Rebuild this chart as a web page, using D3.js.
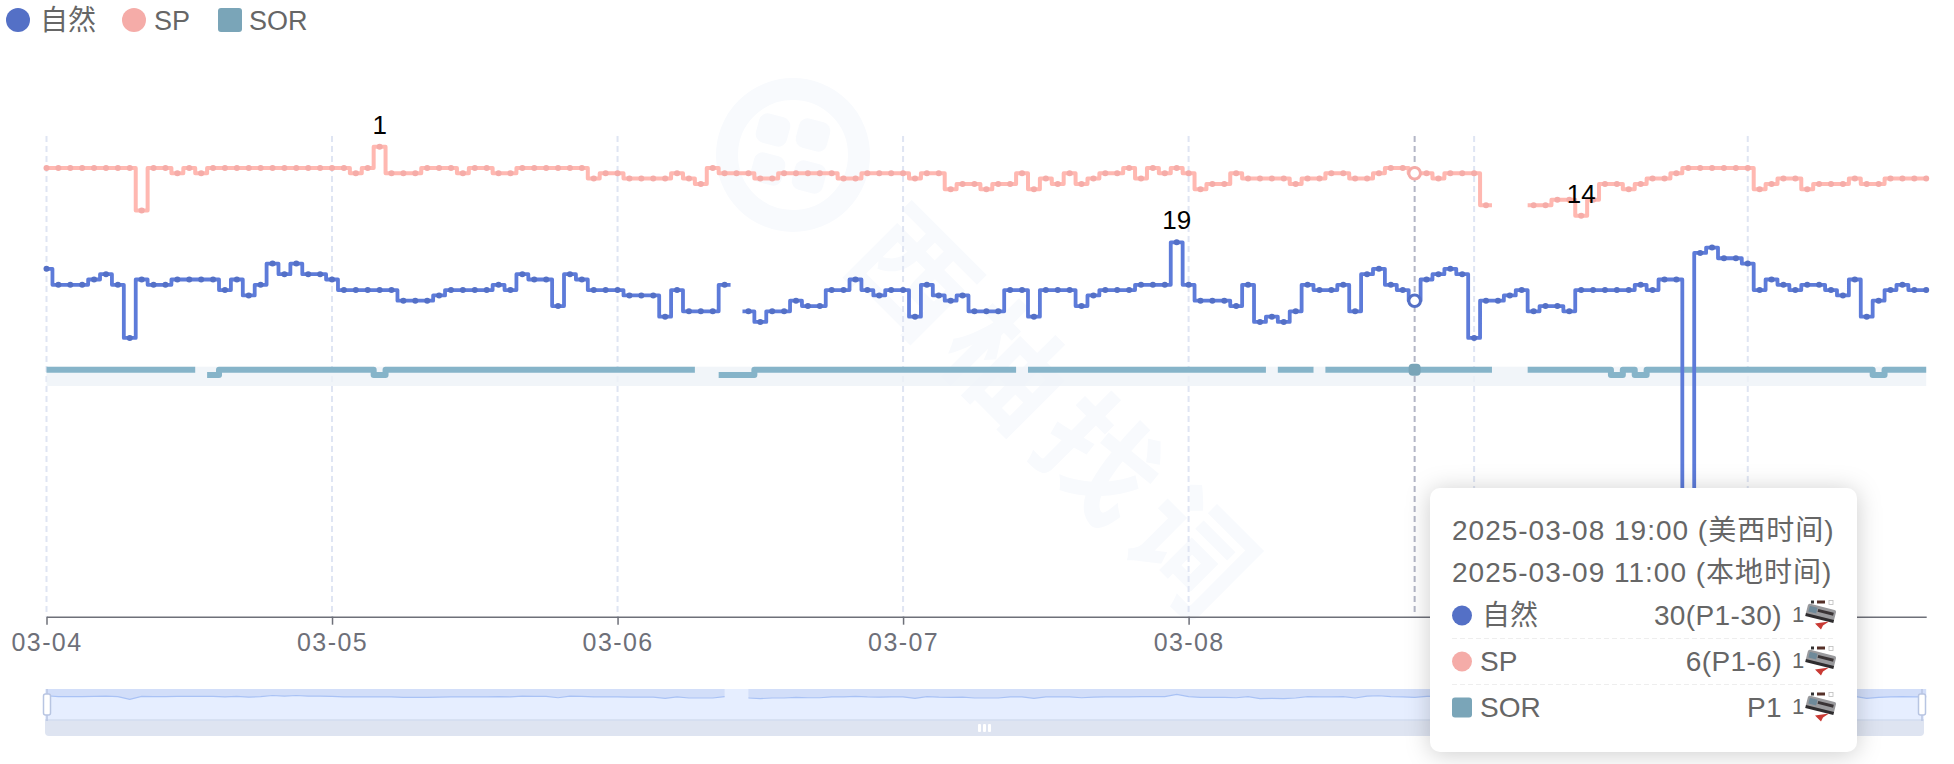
<!DOCTYPE html>
<html>
<head>
<meta charset="utf-8">
<script src="https://cdn.jsdelivr.net/npm/d3@7"></script>
<style>
  body { margin: 0; background: #fff; }
  svg text { font-family: "Liberation Sans", "Noto Sans CJK SC", sans-serif; }
</style>
</head>
<body>
<div id="chart"></div>
<script>
// hourly ranks, starting 03-04 00:00 (null = no rank that hour)
const spValues = [
  5,5,5,5,5,5,5,5,13,5,5,6,5,6,5,5,5,5,5,5,5,5,5,5,5,5,6,5,1,6,6,6,5,5,5,6,5,5,6,6,
  5,5,5,5,5,5,7,6,6,7,7,7,7,6,7,8,5,6,6,6,7,7,6,6,6,6,6,7,7,6,6,6,6,7,6,6,9,8,8,9,
  8,8,6,9,7,8,6,8,7,6,6,5,7,5,6,5,6,9,8,8,6,7,7,7,7,8,7,7,6,6,7,7,6,5,5,6,6,7,6,6,
  6,12,null,null,null,12,12,11,11,14,11,8,8,9,8,7,7,6,5,5,5,5,5,5,9,8,7,7,9,8,8,8,7,8,8,7,7,7,7
];
const naturalValues = [
  24,27,27,27,26,25,27,37,26,27,27,26,26,26,26,28,26,29,27,23,25,23,25,25,26,28,28,28,28,28,30,30,30,29,28,28,28,28,27,28,
  25,26,26,31,25,26,28,28,28,29,29,29,33,28,32,32,32,27,null,32,34,32,32,30,31,31,28,28,26,28,29,28,28,33,27,29,30,29,32,32,
  32,28,28,33,28,28,28,31,29,28,28,28,27,27,27,19,27,30,30,30,31,27,34,33,34,32,27,28,28,27,32,25,24,27,28,30,26,25,24,25,
  37,30,30,29,28,32,31,31,32,28,28,28,28,28,27,28,26,26,72,21,20,22,22,23,28,26,27,28,27,27,28,29,26,33,30,28,27,28,28
];
const sorValues = [
  43,43,43,43,43,43,43,43,43,43,43,43,43,null,44,43,43,43,43,43,43,43,43,43,43,43,43,43,44,43,43,43,43,43,43,43,43,43,43,43,
  43,43,43,43,43,43,43,43,43,43,43,43,43,43,43,null,null,44,44,44,43,43,43,43,43,43,43,43,43,43,43,43,43,43,43,43,43,43,43,43,
  43,43,null,43,43,43,43,43,43,43,43,43,43,43,43,43,43,43,43,43,43,43,43,null,43,43,43,null,43,43,43,43,43,43,43,43,43,43,43,43,
  43,43,null,null,null,43,43,43,43,43,43,43,44,43,44,43,43,43,43,43,43,43,43,43,43,43,43,43,43,43,43,43,43,43,44,43,43,43,43
];

const tickHours = [0, 24, 48, 72, 96, 120, 143]; // 03-09 has 23 hours (clock change)
const tickLabels = ["03-04", "03-05", "03-06", "03-07", "03-08", "03-09", "03-10"];

const legendNames = ["自然", "SP", "SOR"];
const rankLabels = [
  { name: "sp", hour: 28, text: "1" },
  { name: "natural", hour: 95, text: "19" },
  { name: "sp", hour: 129, text: "14" },
];
const hoverHour = 115;
const tooltipLines = ["2025-03-08 19:00 (美西时间)", "2025-03-09 11:00 (本地时间)"];
const tooltipValues = ["30(P1-30)", "6(P1-6)", "P1"];

const colors = { natural: "#5470c6", sp: "#f5aca8", sor: "#7aa5b8" };
const textColor = "#666";
const axisColor = "#6e7079";

const width = 1954;
const height = 764;

const x = d3.scaleLinear().domain([0, 158]).range([46.5, 1926.2]);
const y = d3.scaleLinear().domain([0, 89.5]).range([141.4, 616.7]);

const svg = d3
  .select("#chart")
  .append("svg")
  .attr("width", width)
  .attr("height", height)
  .style("display", "block");

svg
  .append("clipPath")
  .attr("id", "plot-clip")
  .append("rect")
  .attr("x", x(0))
  .attr("y", 0)
  .attr("width", x(158) - x(0))
  .attr("height", height);

// Watermark
const mark = svg.append("g").attr("fill", "#f8fafd");
mark
  .append("circle")
  .attr("cx", 793)
  .attr("cy", 155)
  .attr("r", 66)
  .attr("fill", "none")
  .attr("stroke", "#f8fafd")
  .attr("stroke-width", 22);
[[-20, -22], [20, -17], [-25, 17], [16, 25]].forEach(([dx, dy]) => {
  mark
    .append("rect")
    .attr("x", -16)
    .attr("y", -15)
    .attr("width", 32)
    .attr("height", 30)
    .attr("rx", 9)
    .attr("transform", `translate(${793 + dx},${152 + dy}) rotate(15)`);
});
["西", "柚", "找", "词"].forEach((c, i) => {
  mark
    .append("text")
    .attr("transform", `translate(${913 + i * 92.7},${274 + i * 92.7}) rotate(45)`)
    .attr("text-anchor", "middle")
    .attr("dy", "0.36em")
    .attr("font-size", 118)
    .attr("font-weight", 700)
    .text(c);
});

// Grid lines
svg
  .append("g")
  .selectAll("line")
  .data(tickHours)
  .enter()
  .append("line")
  .attr("x1", (d) => x(d))
  .attr("x2", (d) => x(d))
  .attr("y1", 136)
  .attr("y2", y.range()[1])
  .attr("stroke", "#dfe5f3")
  .attr("stroke-width", 2)
  .attr("stroke-dasharray", "6 4");

// SOR band
svg
  .append("rect")
  .attr("x", x(0))
  .attr("y", y(43) - 3)
  .attr("width", x(158) - x(0))
  .attr("height", y(46) - y(43) + 3 + 0.3)
  .attr("fill", "#edf2f7")
  .attr("fill-opacity", 0.8);

// X axis
const xAxis = svg
  .append("g")
  .attr("transform", `translate(0,${y.range()[1]})`)
  .call(
    d3
      .axisBottom(x)
      .tickValues(tickHours)
      .tickFormat((d, i) => tickLabels[i])
      .tickSize(8)
      .tickSizeOuter(0)
      .tickPadding(9)
  );
xAxis.select(".domain").attr("stroke", axisColor).attr("stroke-width", 1.6);
xAxis.selectAll(".tick line").attr("stroke", axisColor).attr("stroke-width", 1.5);
xAxis
  .selectAll(".tick text")
  .attr("fill", axisColor)
  .attr("font-size", 25)
  .style("letter-spacing", "1.4px");

// One run per stretch of hours with a value. Each end sticks out half an hour,
// the way the step lines stop in the original.
function runs(values) {
  const out = [];
  let run = null;
  values.forEach((v, h) => {
    if (v == null) {
      run = null;
      return;
    }
    if (!run) {
      run = [{ h: h - 0.5, v }];
      out.push(run);
    }
    run.push({ h, v });
    const next = values[h + 1];
    if (next == null) run.push({ h: h + 0.5, v });
  });
  return out;
}

const stepLine = d3
  .line()
  .x((d) => x(d.h))
  .y((d) => y(d.v))
  .curve(d3.curveStep);

function drawSeries(values, lineColor, lineWidth, dotColor, dotRadius) {
  const g = svg.append("g");
  g.selectAll("path")
    .data(runs(values))
    .enter()
    .append("path")
    .attr("d", stepLine)
    .attr("clip-path", "url(#plot-clip)")
    .attr("fill", "none")
    .attr("stroke", lineColor)
    .attr("stroke-width", lineWidth)
    .attr("stroke-linejoin", "round");
  if (dotRadius > 0) {
    g.selectAll("circle")
      .data(values.map((v, h) => ({ h, v })).filter((d) => d.v != null))
      .enter()
      .append("circle")
      .attr("cx", (d) => x(d.h))
      .attr("cy", (d) => y(d.v))
      .attr("r", dotRadius)
      .attr("fill", dotColor);
  }
}

drawSeries(sorValues, "#86b4c9", 6, null, 0);
drawSeries(spValues, "#ffb8b1", 4, colors.sp, 3);
drawSeries(naturalValues, "#5d7bd9", 3.8, colors.natural, 3);

// Rank labels on the high points
const seriesByName = { sp: spValues, natural: naturalValues };
svg
  .append("g")
  .selectAll("text")
  .data(rankLabels)
  .enter()
  .append("text")
  .attr("x", (d) => x(d.hour))
  .attr("y", (d) => y(seriesByName[d.name][d.hour]) - 13)
  .attr("text-anchor", "middle")
  .attr("font-size", 26)
  .attr("fill", "#000")
  .text((d) => d.text);

// Hover crosshair and markers
svg
  .append("line")
  .attr("x1", x(hoverHour))
  .attr("x2", x(hoverHour))
  .attr("y1", 136)
  .attr("y2", y.range()[1])
  .attr("stroke", "#b3b6c6")
  .attr("stroke-width", 2)
  .attr("stroke-dasharray", "6 4");
[
  [spValues, "#f5aca8"],
  [naturalValues, "#5470c6"],
].forEach(([values, c]) => {
  svg
    .append("circle")
    .attr("cx", x(hoverHour))
    .attr("cy", y(values[hoverHour]))
    .attr("r", 5.8)
    .attr("fill", "#fff")
    .attr("stroke", c)
    .attr("stroke-width", 3);
});
svg
  .append("rect")
  .attr("x", x(hoverHour) - 6)
  .attr("y", y(sorValues[hoverHour]) - 6)
  .attr("width", 12)
  .attr("height", 12)
  .attr("rx", 4)
  .attr("fill", colors.sor);

// Legend
const legendX = [18, 134, 230];
const legendTextX = [40, 154, 249];
const legendFont = [28, 27, 27];
legendNames.forEach((name, i) => {
  if (i < 2) {
    svg
      .append("circle")
      .attr("cx", legendX[i])
      .attr("cy", 20)
      .attr("r", 12)
      .attr("fill", i === 0 ? colors.natural : colors.sp);
  } else {
    svg
      .append("rect")
      .attr("x", legendX[i] - 12)
      .attr("y", 8)
      .attr("width", 24)
      .attr("height", 24)
      .attr("rx", 3)
      .attr("fill", colors.sor);
  }
  svg
    .append("text")
    .attr("x", legendTextX[i])
    .attr("y", 30)
    .attr("font-size", legendFont[i])
    .attr("fill", textColor)
    .text(name);
});

// Data zoom
const zoomLeft = 45;
const zoomRight = 1924;
svg
  .append("rect")
  .attr("x", zoomLeft)
  .attr("y", 689)
  .attr("width", zoomRight - zoomLeft)
  .attr("height", 47)
  .attr("rx", 4)
  .attr("fill", "#dee4f1");
svg
  .append("rect")
  .attr("x", zoomLeft)
  .attr("y", 689)
  .attr("width", zoomRight - zoomLeft)
  .attr("height", 31)
  .attr("fill", "#e6eeff");
svg
  .append("line")
  .attr("x1", zoomLeft)
  .attr("x2", zoomRight)
  .attr("y1", 720)
  .attr("y2", 720)
  .attr("stroke", "#d2dcef")
  .attr("stroke-width", 1.5);

const miniY = d3.scaleLinear().domain([0, 110]).range([689, 720]);
const miniPoints = naturalValues.map((v, h) => ({ h, v }));
svg
  .append("path")
  .datum(miniPoints)
  .attr(
    "d",
    d3
      .area()
      .defined((d) => d.v != null)
      .x((d) => x(d.h))
      .y0(689)
      .y1((d) => miniY(d.v))
  )
  .attr("fill", "#d2def9");
svg
  .append("path")
  .datum(miniPoints)
  .attr(
    "d",
    d3
      .line()
      .defined((d) => d.v != null)
      .x((d) => x(d.h))
      .y((d) => miniY(d.v))
  )
  .attr("fill", "none")
  .attr("stroke", "#a9c2f5")
  .attr("stroke-width", 1.2);

[47, 1922].forEach((hx) => {
  svg
    .append("line")
    .attr("x1", hx)
    .attr("x2", hx)
    .attr("y1", 689)
    .attr("y2", 721)
    .attr("stroke", "#b8c5e2")
    .attr("stroke-width", 1.5);
  svg
    .append("rect")
    .attr("x", hx - 3.5)
    .attr("y", 694)
    .attr("width", 7)
    .attr("height", 21)
    .attr("rx", 2)
    .attr("fill", "#fff")
    .attr("stroke", "#b8c5e2")
    .attr("stroke-width", 1.5);
});
[979.5, 984.5, 989.5].forEach((bx) => {
  svg
    .append("rect")
    .attr("x", bx - 1.5)
    .attr("y", 724)
    .attr("width", 3)
    .attr("height", 8)
    .attr("rx", 1)
    .attr("fill", "#fff");
});

// Tooltip
const tip = svg.append("g");
tip
  .append("rect")
  .attr("x", 1430)
  .attr("y", 488)
  .attr("width", 427)
  .attr("height", 264)
  .attr("rx", 10)
  .attr("fill", "#fff")
  .style("filter", "drop-shadow(0 2px 12px rgba(0,0,0,0.2))");

const tipLeft = 1452;
const tipRight = 1835;
[540, 582].forEach((ty, i) => {
  tip
    .append("text")
    .attr("x", tipLeft)
    .attr("y", ty)
    .attr("font-size", 28)
    .attr("fill", textColor)
    .style("letter-spacing", "1px")
    .text(tooltipLines[i]);
});

// Tiny product picture at the end of a tooltip row
function drawThumb(cx, cy) {
  const g = tip.append("g").attr("transform", `translate(${cx},${cy})`);
  g.append("rect").attr("x", -9).attr("y", -14).attr("width", 3).attr("height", 3).attr("fill", "#333");
  g.append("rect").attr("x", -3).attr("y", -14).attr("width", 8).attr("height", 3).attr("fill", "#553028");
  g.append("rect").attr("x", 9).attr("y", -14).attr("width", 4).attr("height", 4).attr("fill", "none").attr("stroke", "#bbb").attr("stroke-width", 0.8);
  const body = g.append("g").attr("transform", "rotate(14)");
  body.append("rect").attr("x", -14).attr("y", -8).attr("width", 29).attr("height", 12).attr("rx", 2).attr("fill", "#9a9a9d");
  body.append("rect").attr("x", -12).attr("y", -6).attr("width", 8).attr("height", 6).attr("fill", "#6f8a9a");
  body.append("rect").attr("x", -3).attr("y", -5).attr("width", 16).attr("height", 3).attr("fill", "#3a3436");
  body.append("rect").attr("x", -14).attr("y", 2).attr("width", 29).attr("height", 3).attr("fill", "#2e2c2e");
  g.append("path").attr("d", "M-5 9 L9 7 L3 11 L1 15 Z").attr("fill", "#c93a34");
}

const rowMid = [615.5, 661.5, 707.5];
const rowBase = [625, 671, 717];
legendNames.forEach((name, i) => {
  if (i < 2) {
    tip
      .append("circle")
      .attr("cx", tipLeft + 10)
      .attr("cy", rowMid[i])
      .attr("r", 10)
      .attr("fill", i === 0 ? colors.natural : colors.sp);
  } else {
    tip
      .append("rect")
      .attr("x", tipLeft)
      .attr("y", rowMid[i] - 10)
      .attr("width", 20)
      .attr("height", 20)
      .attr("rx", 3)
      .attr("fill", colors.sor);
  }
  tip
    .append("text")
    .attr("x", i === 0 ? tipLeft + 30 : tipLeft + 28)
    .attr("y", rowBase[i])
    .attr("font-size", 28)
    .attr("fill", textColor)
    .text(name);
  tip
    .append("text")
    .attr("x", 1782)
    .attr("y", rowBase[i])
    .attr("text-anchor", "end")
    .attr("font-size", 28)
    .attr("fill", textColor)
    .style("letter-spacing", "0.4px")
    .text(tooltipValues[i]);
  tip
    .append("text")
    .attr("x", 1792)
    .attr("y", rowBase[i] - 3)
    .attr("font-size", 22)
    .attr("fill", textColor)
    .text("1");
  drawThumb(1820, rowMid[i] - 1);
  if (i < 2) {
    tip
      .append("line")
      .attr("x1", tipLeft)
      .attr("x2", tipRight)
      .attr("y1", rowMid[i] + 23)
      .attr("y2", rowMid[i] + 23)
      .attr("stroke", "#eee")
      .attr("stroke-dasharray", "5 3");
  }
});
</script>
</body>
</html>
